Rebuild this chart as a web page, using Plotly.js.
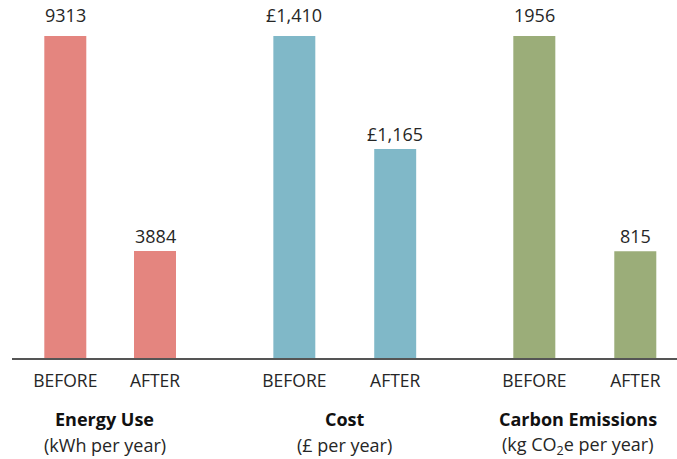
<!DOCTYPE html>
<html>
<head>
<meta charset="utf-8">
<script src="https://cdn.plot.ly/plotly-3.0.1.min.js"></script>
<style>
  html, body { margin: 0; padding: 0; background: #ffffff; }
  #chart { width: 677px; height: 459px; }
</style>
</head>
<body>
<div id="chart"></div>
<script>
// ---- data ----
var phases = ["BEFORE", "AFTER"];
var groupTitles = ["Energy Use", "Cost", "Carbon Emissions"];
var groupUnits = ["(kWh per year)", "(£ per year)", "(kg CO<sub>2</sub>e per year)"];
var energyUse = [9313, 3884];
var cost = [1410, 1165];
var carbonEmissions = [1956, 815];
var labelPrefix = ["", "£", ""];
var useThousands = [false, true, false];

// ---- styling / layout ----
var colors = ["#E4857F", "#80B8C8", "#9BAD79"];
var seriesList = [energyUse, cost, carbonEmissions];
// y-axis lower bounds of each group's (truncated) scale
var yMins = [1156, 710, 243];
var xDomains = [[0.0127, 0.2825], [0.3487, 0.6521], [0.7095, 1.0]];
var xRanges = [[-0.5, 1.5], [-0.5, 1.5], [-0.5, 1.413]];
var barWidths = [0.468, 0.416, 0.416];
var titleX = [0.47, 0.5, 0.49];
var textColor = "#262626";
var FONT = "Open Sans, Noto Sans, DejaVu Sans, sans-serif";

function fmt(v, g) {
  var s = useThousands[g] ? v.toLocaleString("en-GB") : String(v);
  return labelPrefix[g] + s;
}

var traces = [];
var annotations = [];
var layout = {
  width: 677, height: 459,
  margin: {l: 12, r: 0, t: 36, b: 100},
  paper_bgcolor: "#ffffff",
  plot_bgcolor: "rgba(0,0,0,0)",
  showlegend: false,
  font: {family: FONT, size: 18, color: textColor},
  shapes: [{
    type: "line", xref: "paper", yref: "paper",
    x0: 0, x1: 1, y0: 0, y1: 0,
    line: {color: "#555555", width: 2}
  }]
};

for (var g = 0; g < 3; g++) {
  var sfx = g === 0 ? "" : String(g + 1);
  var xa = "x" + sfx, ya = "y" + sfx;
  traces.push({
    type: "bar",
    x: phases,
    y: seriesList[g],
    xaxis: xa, yaxis: ya,
    width: barWidths[g],
    marker: {color: colors[g], line: {width: 0}},
    hoverinfo: "skip"
  });
  layout["xaxis" + sfx] = {
    domain: xDomains[g],
    range: xRanges[g],
    type: "category",
    anchor: ya,
    showgrid: false, zeroline: false, showline: false,
    ticks: "",
    ticklabelstandoff: 9,
    tickfont: {family: FONT, size: 17.5, color: textColor},
    fixedrange: true
  };
  layout["yaxis" + sfx] = {
    domain: [0, 1],
    range: [yMins[g], seriesList[g][0]],
    anchor: xa,
    visible: false,
    fixedrange: true
  };
  for (var i = 0; i < phases.length; i++) {
    annotations.push({
      xref: xa, yref: ya,
      x: phases[i], y: seriesList[g][i],
      text: fmt(seriesList[g][i], g),
      showarrow: false,
      xanchor: "center", yanchor: "bottom",
      yshift: i === 0 ? 7 : 1,
      font: {family: FONT, size: 18, color: textColor}
    });
  }
  annotations.push({
    xref: xa + " domain", yref: "paper",
    x: titleX[g], y: 0,
    text: "<b>" + groupTitles[g] + "</b>",
    showarrow: false, xanchor: "center", yanchor: "middle",
    yshift: -60,
    font: {family: FONT, size: 18, color: "#111111"}
  });
  annotations.push({
    xref: xa + " domain", yref: "paper",
    x: titleX[g], y: 0,
    text: groupUnits[g],
    showarrow: false, xanchor: "center", yanchor: "middle",
    yshift: -86,
    font: {family: FONT, size: 18, color: textColor}
  });
}
layout.annotations = annotations;

Plotly.newPlot("chart", traces, layout, {displayModeBar: false, staticPlot: true});
</script>
</body>
</html>
